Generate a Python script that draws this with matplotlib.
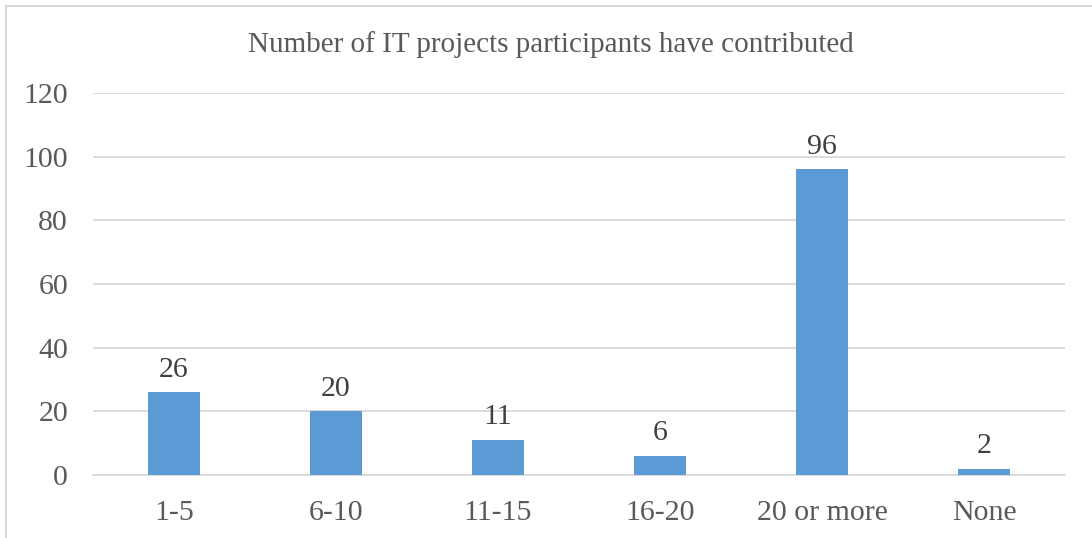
import matplotlib
matplotlib.use("Agg")
import matplotlib.pyplot as plt
from matplotlib.patches import Rectangle

categories = ["1-5", "6-10", "11-15", "16-20", "20 or more", "None"]
counts = [26, 20, 11, 6, 96, 2]
y_ticks = [0, 20, 40, 60, 80, 100, 120]

W, H = 1092, 538
text_color = "#595959"
bar_color = "#5B9BD5"
grid_color = "#D9D9D9"

plt.rcParams["font.family"] = ["Liberation Serif", "DejaVu Serif"]

fig = plt.figure(figsize=(W / 100, H / 100), dpi=100)
# axes placed in pixels: left 93, right 1065, top (y=120) 93, bottom (y=0) 475
ax = fig.add_axes([93 / W, 1 - 475 / H, (1065 - 93) / W, (475 - 93) / H])

# outer chart border (cut off at right and bottom in the original)
fig.patches.append(Rectangle((6 / W, -0.1), 1.2, 1 - 6 / H + 0.1, transform=fig.transFigure,
                             fill=False, edgecolor=grid_color, linewidth=1.5))

x = range(len(categories))
bars = ax.bar(x, counts, width=0.32, color=bar_color, zorder=3)

for b, v in zip(bars, counts):
    ax.text(b.get_x() + b.get_width() / 2, v + 3, str(v), ha="center", va="bottom",
            fontsize=21.5, color="#404040")

ax.set_xlim(-0.5, len(categories) - 0.5)
ax.set_ylim(0, 120)
ax.set_yticks(y_ticks)
ax.set_xticks(list(x))
ax.set_xticklabels(categories)
ax.tick_params(axis="both", length=0, labelsize=21.5, labelcolor=text_color)
ax.tick_params(axis="y", pad=18)
ax.tick_params(axis="x", pad=18)
ax.yaxis.grid(True, color=grid_color, linewidth=1.3, zorder=0)
for s in ["top", "right", "left"]:
    ax.spines[s].set_visible(False)
ax.spines["bottom"].set_color(grid_color)
ax.spines["bottom"].set_linewidth(1.3)

fig.text(551 / W, 1 - 45 / H, "Number of IT projects participants have contributed",
         ha="center", va="center", fontsize=21, color=text_color)

fig.savefig("out.png", dpi=100)
